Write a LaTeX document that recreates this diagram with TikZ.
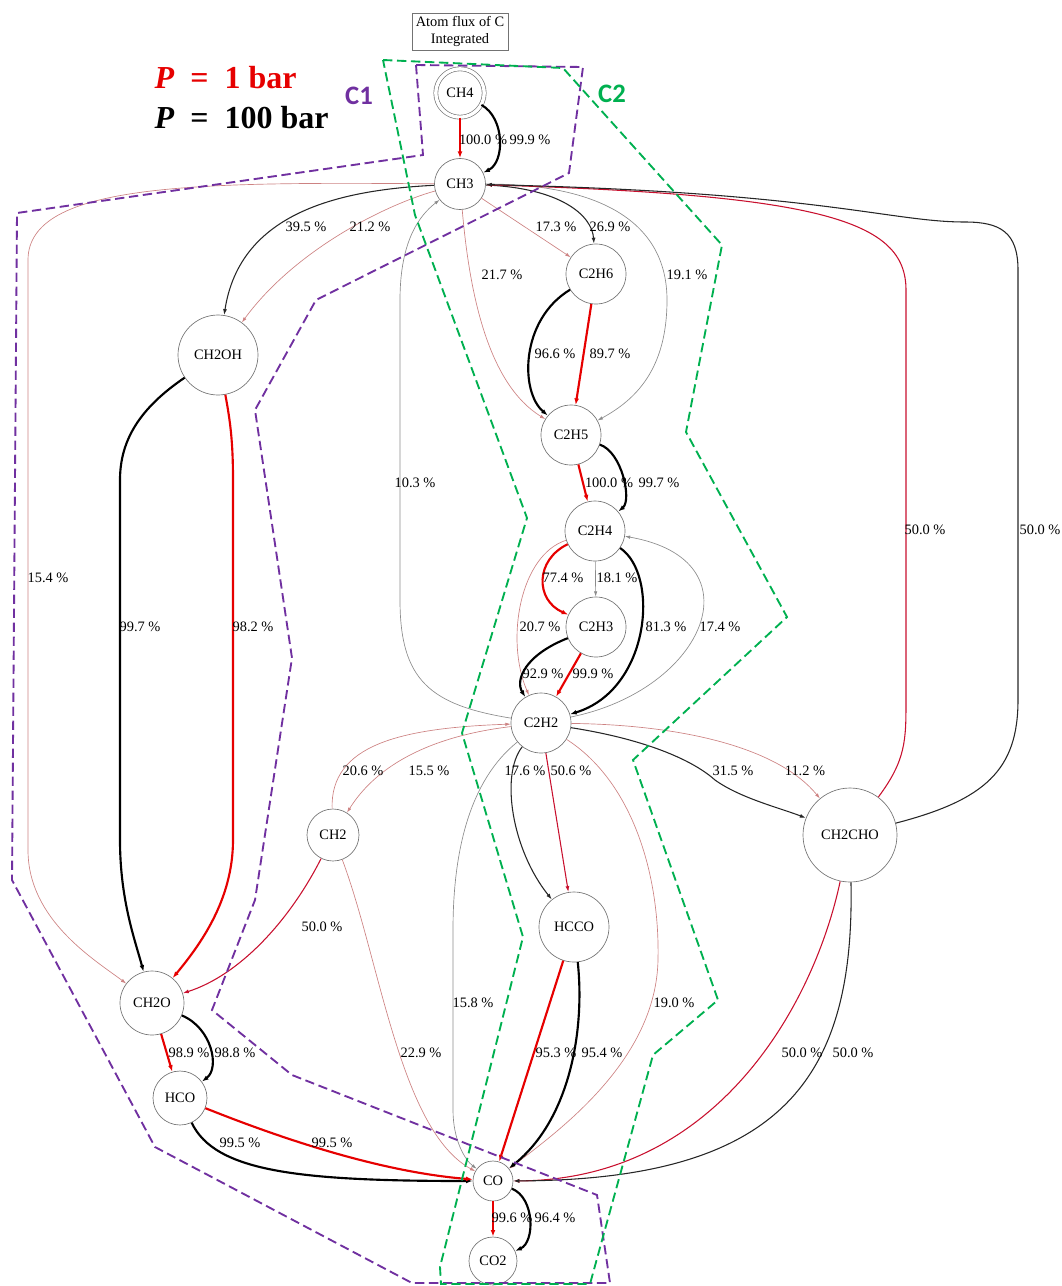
\documentclass[tikz,border=0pt]{standalone}
\usepackage{fontspec}
\setmainfont{Liberation Serif}
\newfontfamily\calfont{Carlito}
\usetikzlibrary{arrows.meta}
\definecolor{cpurple}{HTML}{7030A0}
\definecolor{cgreen}{HTML}{00B050}
\definecolor{rhot}{HTML}{E60000}
\definecolor{rmed}{HTML}{C8102E}
\definecolor{rpale}{RGB}{205,130,130}
\tikzset{
	sp/.style={circle, draw=black!55, line width=0.5pt, inner sep=1pt, font=\fontsize{10.8}{12}\selectfont},
	lab/.style={inner sep=0pt, font=\fontsize{10.8}{12}\selectfont},
	rhi/.style={draw=rhot, line width=1.6pt, -{Latex[length=5pt,width=3.6pt]}},
	rmid/.style={draw=rmed, line width=0.8pt, -{Latex[length=4.5pt,width=3pt]}},
	rlo/.style={draw=rpale, line width=0.5pt, -{Latex[length=4pt,width=2.6pt]}},
	khi/.style={draw=black, line width=1.6pt, -{Latex[length=5pt,width=3.6pt]}},
	kmid/.style={draw=black!85, line width=0.8pt, -{Latex[length=4.5pt,width=3pt]}},
	klo/.style={draw=black!45, line width=0.5pt, -{Latex[length=4pt,width=2.6pt]}},
	zone/.style={line width=1.4pt, dash pattern=on 7pt off 3.5pt}
}
\begin{document}
\begin{tikzpicture}[x=0.75pt,y=-0.75pt]
	\useasboundingbox (0,0) rectangle (1061,1286);
	\node[draw=black!55, line width=0.5pt, align=center, minimum width=72pt, minimum height=28pt, inner sep=1pt, font=\fontsize{10.8}{13}\selectfont] (title) at (460,31.5) {Atom flux of C\\Integrated};
	\node[sp, double, double distance=2.5pt, minimum size=36.3pt] (ch4) at (460,93) {CH4};
	\node[sp, minimum size=38.3pt] (ch3) at (460,184) {CH3};
	\node[sp, minimum size=45pt] (c2h6) at (596,274) {C2H6};
	\node[sp, minimum size=60pt] (ch2oh) at (218,355) {CH2OH};
	\node[sp, minimum size=45pt] (c2h5) at (571,435) {C2H5};
	\node[sp, minimum size=45pt] (c2h4) at (595,531) {C2H4};
	\node[sp, minimum size=45pt] (c2h3) at (596,627) {C2H3};
	\node[sp, minimum size=45pt] (c2h2) at (541,723) {C2H2};
	\node[sp, minimum size=39pt] (ch2) at (333,835) {CH2};
	\node[sp, minimum size=70.5pt] (ch2cho) at (850,835) {CH2CHO};
	\node[sp, minimum size=52.5pt] (hcco) at (574,927) {HCCO};
	\node[sp, minimum size=48pt] (ch2o) at (152,1003) {CH2O};
	\node[sp, minimum size=40.5pt] (hco) at (180,1098) {HCO};
	\node[sp, minimum size=30pt] (co) at (493,1181) {CO};
	\node[sp, minimum size=36pt] (co2) at (493,1261) {CO2};

	\draw[rhi] (ch4) -- (ch3);
	\draw[khi] (ch4) .. controls (505,118) and (505,162) .. (ch3);
	\draw[kmid] (ch3) .. controls (340,190) and (240,212) .. (ch2oh);
	\draw[rlo] (ch3) .. controls (385,205) and (295,250) .. (ch2oh);
	\draw[rlo] (ch3) .. controls (200,182) and (28,182) .. (28,260) -- (28,850) .. controls (28,920) and (95,960) .. (ch2o);
	\draw[rlo] (ch3) .. controls (470,300) and (490,385) .. (c2h5);
	\draw[rlo] (ch3) -- (c2h6);
	\draw[kmid] (ch3) .. controls (560,188) and (592,215) .. (c2h6);
	\draw[klo] (ch3) .. controls (600,184) and (667,222) .. (667,300) .. controls (667,370) and (635,400) .. (c2h5);
	\draw[khi] (c2h6) .. controls (520,320) and (520,392) .. (c2h5);
	\draw[rhi] (c2h6) -- (c2h5);
	\draw[rhi] (c2h5) -- (c2h4);
	\draw[khi] (c2h5) .. controls (622,452) and (632,500) .. (c2h4);
	\draw[rhi] (c2h4) .. controls (535,560) and (535,600) .. (c2h3);
	\draw[klo] (c2h4) -- (c2h3);
	\draw[rlo] (c2h4) .. controls (520,555) and (505,640) .. (c2h2);
	\draw[khi] (c2h4) .. controls (660,575) and (650,690) .. (c2h2);
	\draw[klo] (c2h2) .. controls (705,690) and (760,560) .. (c2h4);
	\draw[khi] (c2h3) .. controls (525,655) and (515,680) .. (c2h2);
	\draw[rhi] (c2h3) -- (c2h2);
	\draw[klo] (c2h2) .. controls (430,705) and (400,680) .. (400,600) -- (400,300) .. controls (400,240) and (420,215) .. (ch3);
	\draw[rlo] (ch2) .. controls (330,745) and (400,728) .. (c2h2);
	\draw[rlo] (c2h2) .. controls (440,735) and (380,760) .. (ch2);
	\draw[klo] (c2h2) .. controls (470,780) and (453,850) .. (453,930) -- (453,1110) .. controls (453,1140) and (465,1160) .. (co);
	\draw[kmid] (c2h2) .. controls (500,775) and (512,850) .. (hcco);
	\draw[rmid] (c2h2) -- (hcco);
	\draw[rlo] (c2h2) .. controls (630,780) and (660,870) .. (658,960) .. controls (656,1060) and (560,1130) .. (co);
	\draw[kmid] (c2h2) .. controls (650,740) and (695,762) .. (715,780) .. controls (740,798) and (780,808) .. (ch2cho);
	\draw[rlo] (c2h2) .. controls (690,725) and (780,750) .. (ch2cho);
	\draw[rmid] (ch2cho) .. controls (906,760) and (906,740) .. (906,700) -- (906,290) .. controls (906,220) and (820,195) .. (ch3);
	\draw[kmid] (ch2cho) .. controls (985,800) and (1018,770) .. (1018,700) -- (1018,270) .. controls (1018,232) and (1000,222) .. (965,222) .. controls (890,222) and (820,192) .. (ch3);
	\draw[rmid] (ch2cho) .. controls (815,1000) and (720,1180) .. (co);
	\draw[kmid] (ch2cho) .. controls (855,1080) and (780,1180) .. (co);
	\draw[khi] (ch2oh) .. controls (140,408) and (120,440) .. (120,480) -- (120,840) .. controls (120,900) and (135,940) .. (ch2o);
	\draw[rhi] (ch2oh) .. controls (230,420) and (233,440) .. (233,480) -- (233,840) .. controls (233,900) and (200,945) .. (ch2o);
	\draw[rmid] (ch2) .. controls (290,920) and (240,975) .. (ch2o);
	\draw[rlo] (ch2) .. controls (380,960) and (400,1130) .. (co);
	\draw[rhi] (hcco) -- (co);
	\draw[khi] (hcco) .. controls (585,1030) and (570,1120) .. (co);
	\draw[rhi] (ch2o) -- (hco);
	\draw[khi] (ch2o) .. controls (212,1028) and (220,1068) .. (hco);
	\draw[khi] (hco) .. controls (215,1172) and (300,1181) .. (co);
	\draw[rhi] (hco) .. controls (280,1138) and (380,1172) .. (co);
	\draw[rhi] (co) -- (co2);
	\draw[khi] (co) .. controls (535,1198) and (535,1242) .. (co2);

	\foreach \x/\y/\t [count=\i] in {483/140/100.0, 530/140/99.9, 306/227/39.5, 370/227/21.2, 556/227/17.3, 610/227/26.9, 502/275/21.7, 687/275/19.1, 555/354/96.6, 610/354/89.7, 609/483/100.0, 659/483/99.7, 415/483/10.3, 563/578/77.4, 617/578/18.1, 540/627/20.7, 666/627/81.3, 720/627/17.4, 543/674/92.9, 593/674/99.9, 363/771/20.6, 429/771/15.5, 525/771/17.6, 571/771/50.6, 733/771/31.5, 805/771/11.2, 322/927/50.0, 473/1003/15.8, 674/1003/19.0, 48/578/15.4, 140/627/99.7, 253/627/98.2, 925/530/50.0, 1040/530/50.0, 802/1053/50.0, 853/1053/50.0, 189/1053/98.9, 235/1053/98.8, 421/1053/22.9, 556/1053/95.3, 602/1053/95.4, 240/1143/99.5, 332/1143/99.5, 512/1218/99.6, 555/1218/96.4}
		\node[lab] (pct\i) at (\x,\y) {\t~\%};

	\draw[zone, cpurple] (416,65) -- (583,67) -- (569,173) -- (316,300) -- (255,410) -- (292,658) -- (255,900) -- (212,1010) -- (292,1075) -- (597,1195) -- (610,1283) -- (412,1283) -- (155,1147) -- (12,880) -- (17,213) -- (423,155) -- cycle;
	\draw[zone, cgreen] (383,60) -- (563,68) -- (722,245) -- (686,432) -- (787,617) -- (633,760) -- (718,1000) -- (653,1055) -- (590,1284) -- (441,1284) -- (440,1267) -- (523,937) -- (462,733) -- (527,518) -- (415,215) -- cycle;

	\node[anchor=base west, text=rhot, font=\fontsize{24}{28}\selectfont\bfseries] (pone) at (150,88) {\textit{P}\enspace=\enspace1 bar};
	\node[anchor=base west, font=\fontsize{24}{28}\selectfont\bfseries] (phund) at (150,128) {\textit{P}\enspace=\enspace100 bar};
	\node[text=cpurple, font=\calfont\fontsize{20}{24}\selectfont\bfseries] (cone) at (359,96) {C1};
	\node[text=cgreen, font=\calfont\fontsize{20}{24}\selectfont\bfseries] (ctwo) at (612,94) {C2};
\end{tikzpicture}
\end{document}
